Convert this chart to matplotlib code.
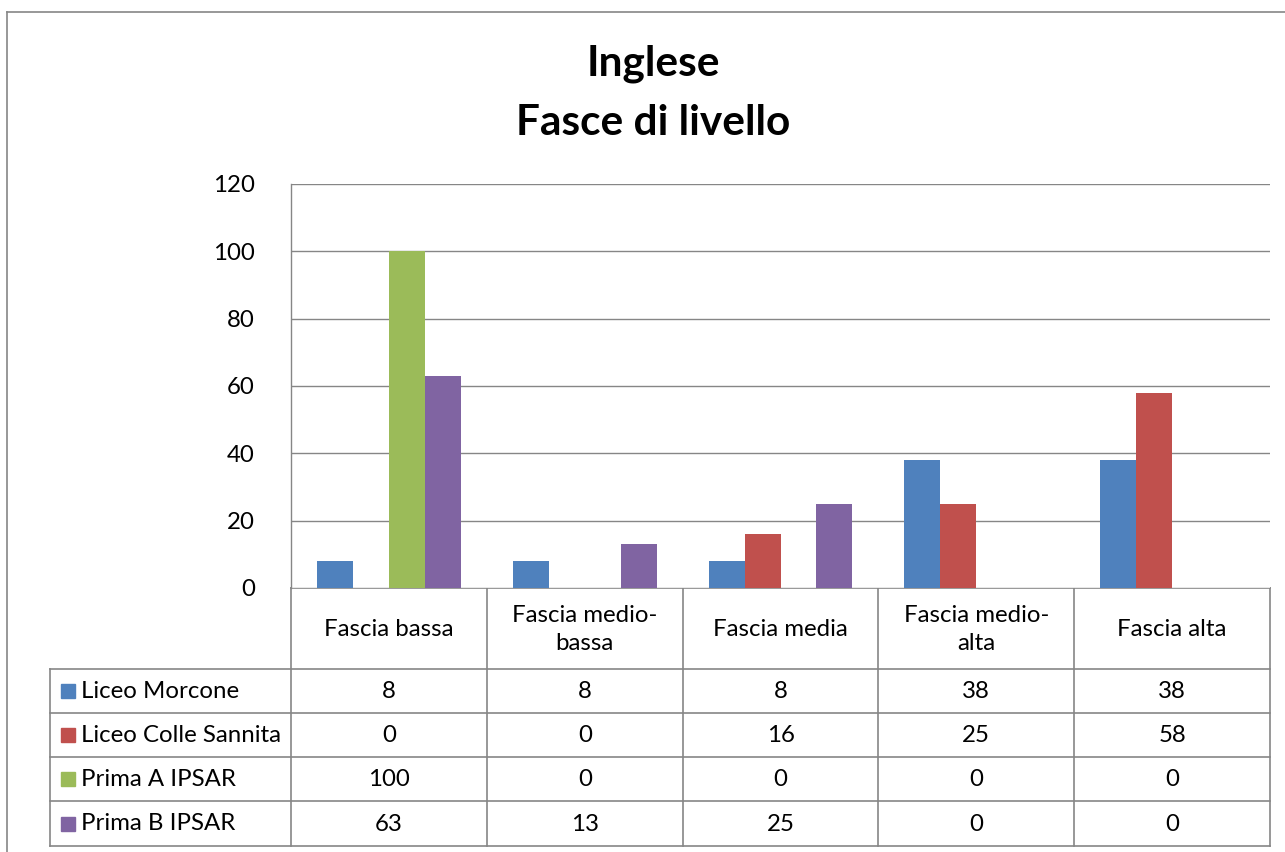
import matplotlib.pyplot as plt
import numpy as np

plt.rcParams['font.family'] = ['Lato', 'DejaVu Sans']

categories = ["Fascia bassa", "Fascia medio-\nbassa", "Fascia media",
              "Fascia medio-\nalta", "Fascia alta"]
series_names = ["Liceo Morcone", "Liceo Colle Sannita", "Prima A IPSAR", "Prima B IPSAR"]
liceo_morcone = [8, 8, 8, 38, 38]
liceo_colle = [0, 0, 16, 25, 58]
prima_a = [100, 0, 0, 0, 0]
prima_b = [63, 13, 25, 0, 0]
series = [liceo_morcone, liceo_colle, prima_a, prima_b]
colors = ["#4F81BD", "#C0504D", "#9BBB59", "#8064A2"]
y_ticks = [0, 20, 40, 60, 80, 100, 120]

W, H = 1285, 852
fig = plt.figure(figsize=(W / 100, H / 100), dpi=100)
line_c = "#868686"
fs = 17.3

# pixel geometry of the plot area
px_left, px_right, px_top, px_bottom = 291, 1270, 184, 588
ax = fig.add_axes([px_left / W, 1 - px_bottom / H,
                   (px_right - px_left) / W, (px_bottom - px_top) / H])
ax.set_xlim(0, len(categories))
ax.set_ylim(0, 120)

bar_w = 36 / 196
offset = 26 / 196
x = np.arange(len(categories))
for k, (vals, col) in enumerate(zip(series, colors)):
    ax.bar(x + offset + k * bar_w, vals, bar_w, align='edge', color=col, zorder=3)

ax.set_yticks(y_ticks)
ax.set_yticklabels([str(t) for t in y_ticks], fontsize=fs)
ax.tick_params(axis='y', length=0, pad=26)
ax.set_xticks([])
ax.grid(axis='y', color=line_c, linewidth=1.0, zorder=0)
for s in ['top', 'right', 'bottom']:
    ax.spines[s].set_visible(False)
ax.spines['left'].set_color(line_c)
ax.spines['left'].set_linewidth(1.0)

# overlay in pixel coordinates for frame, title and data table
ov = fig.add_axes([0, 0, 1, 1], zorder=-1)
ov.set_xlim(0, W)
ov.set_ylim(H, 0)
ov.axis('off')

# chart frame
ov.plot([7, 7], [12, H + 5], color=line_c, lw=1.2)
ov.plot([7, W + 5], [12, 12], color=line_c, lw=1.2)

ov.text(653, 64, "Inglese", ha='center', va='center', fontsize=30.5, fontweight='bold')
ov.text(653, 123, "Fasce di livello", ha='center', va='center', fontsize=30.5, fontweight='bold')

# data table
col_edges = np.linspace(px_left, px_right, len(categories) + 1)
row_edges = [669, 713, 757, 801, 846]
leg_left = 50
ov.plot([px_left, px_left], [px_bottom, row_edges[-1]], color=line_c, lw=1.2)
for xe in col_edges[1:]:
    ov.plot([xe, xe], [px_bottom, row_edges[-1]], color=line_c, lw=1.2)
for ye in row_edges:
    ov.plot([leg_left, px_right], [ye, ye], color=line_c, lw=1.2)
ov.plot([leg_left, leg_left], [row_edges[0], row_edges[-1]], color=line_c, lw=1.2)
ov.plot([px_left, px_right], [px_bottom, px_bottom], color=line_c, lw=1.2)

for i, cat in enumerate(categories):
    cx = (col_edges[i] + col_edges[i + 1]) / 2
    ov.text(cx, (px_bottom + row_edges[0]) / 2 + 1, cat, ha='center', va='center',
            fontsize=fs, linespacing=1.45)

for r, (name, vals, col) in enumerate(zip(series_names, series, colors)):
    cy = (row_edges[r] + row_edges[r + 1]) / 2
    ov.add_patch(plt.Rectangle((61, cy - 7), 14, 14, color=col))
    ov.text(81, cy, name, ha='left', va='center', fontsize=fs)
    for i, v in enumerate(vals):
        cx = (col_edges[i] + col_edges[i + 1]) / 2
        ov.text(cx, cy + 1, str(v), ha='center', va='center', fontsize=fs)

fig.savefig("out.png", dpi=100, facecolor='w')
plt.close(fig)
